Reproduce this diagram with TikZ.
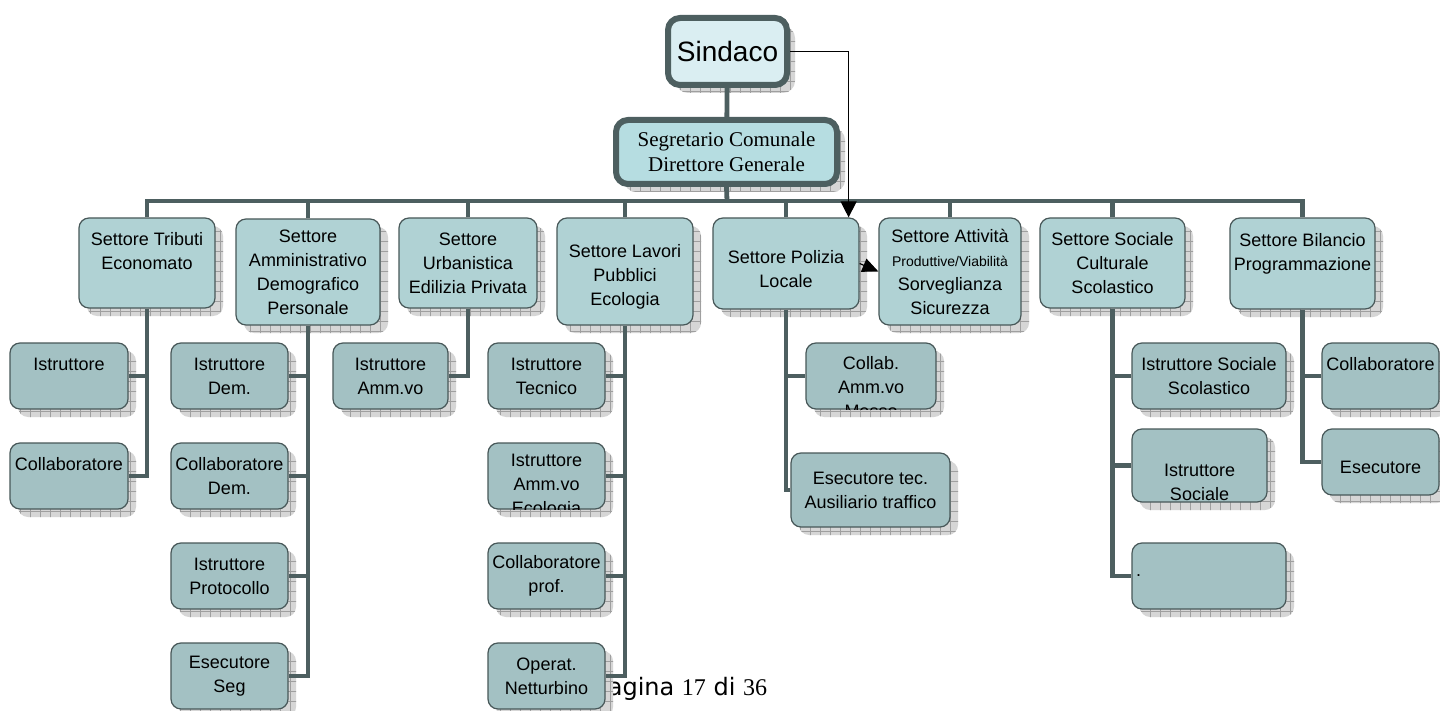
\documentclass[tikz,border=0pt]{standalone}
\usepackage{fontspec}
\setmainfont{Liberation Sans}
\newfontfamily\serfont{Liberation Serif}
\newfontfamily\pagfont{DejaVu Sans}
\usetikzlibrary{arrows.meta,shadows,patterns}
\definecolor{linec}{RGB}{77,95,96}
\definecolor{edgec}{RGB}{72,88,89}
\definecolor{settfill}{RGB}{176,210,212}
\definecolor{subfill}{RGB}{163,193,195}
\definecolor{sindfill}{RGB}{218,238,242}
\definecolor{segfill}{RGB}{182,221,225}
\pgfdeclarepatternformonly{shadegrid}{\pgfqpoint{-1pt}{-1pt}}{\pgfqpoint{6pt}{6pt}}{\pgfqpoint{5pt}{5pt}}{%
  \pgfsetlinewidth{.35pt}
  \pgfpathmoveto{\pgfqpoint{0pt}{0pt}}\pgfpathlineto{\pgfqpoint{5.1pt}{0pt}}
  \pgfpathmoveto{\pgfqpoint{0pt}{0pt}}\pgfpathlineto{\pgfqpoint{0pt}{5.1pt}}
  \pgfusepath{stroke}}
\tikzset{
  gridshadow/.style={general shadow={shadow xshift=4pt, shadow yshift=-4pt, fill=gray!32},
    general shadow={shadow xshift=4pt, shadow yshift=-4pt, pattern=shadegrid, pattern color=gray!75}},
  box/.style={draw=edgec, line width=.6pt, rounded corners=5pt, inner sep=0pt,
    align=center, font=\fontsize{9}{12}\selectfont, gridshadow},
  sett/.style={box, fill=settfill, minimum width=72pt, minimum height=45pt},
  sub/.style={box, fill=subfill, minimum width=58.5pt, minimum height=33pt},
  head/.style={draw=linec, line width=3pt, rounded corners=6pt, inner sep=0pt, align=center, gridshadow},
  link/.style={draw=linec, line width=2.4pt},
  ptr/.style={draw=black, line width=.6pt, -{Triangle[length=8pt,width=8pt]}},
  cut/.style={inner sep=0pt, align=center, font=\fontsize{9}{12}\selectfont}
}
\begin{document}
\begin{tikzpicture}[x=.5pt, y=-.5pt]
  \fill[white] (0,0) rectangle (1440,711);
  \useasboundingbox (0,0) rectangle (1440,711);
  \node[anchor=base west, inner sep=0pt, font=\pagfont\fontsize{12}{14}\selectfont] (pag)
    at (594,695) {Pagina {\serfont 17} di {\serfont 36}};
  % vertice
  \node[head, fill=sindfill, minimum width=59.5pt, minimum height=33.5pt,
    font=\fontsize{14}{16}\selectfont] (sind) at (727.5,51.5) {Sindaco};
  \node[head, fill=segfill, minimum width=110.5pt, minimum height=32pt,
    font=\serfont\fontsize{10.5}{12.5}\selectfont] (seg) at (726.5,152) {Segretario Comunale\\Direttore Generale};
  % settori
  \node[sett, minimum width=68pt] (trib) at (147,263) {Settore Tributi\\Economato\\~};
  \node[sett, minimum height=53pt] (amm) at (308,272) {Settore\\Amministrativo\\Demografico\\Personale};
  \node[sett, minimum width=69pt] (urb) at (468,263) {Settore\\Urbanistica\\Edilizia Privata};
  \node[sett, minimum width=68pt, minimum height=53.5pt] (lav) at (625,271.5) {~\\Settore Lavori\\Pubblici\\Ecologia};
  \node[sett, minimum width=73pt, minimum height=45.5pt] (pol) at (786,263.5) {~\\Settore Polizia\\Locale};
  \node[sett, minimum width=71pt, minimum height=53.5pt] (att) at (950,271.5)
    {Settore Attività\\{\fontsize{7}{9}\selectfont Produttive/Viabilità}\\Sorveglianza\\Sicurezza};
  \node[sett, minimum width=72.5pt] (soc) at (1112.5,263) {Settore Sociale\\Culturale\\Scolastico};
  \node[sett, minimum width=72.5pt, minimum height=45.5pt] (bil) at (1302.5,263.5) {Settore Bilancio\\Programmazione\\~};
  % uffici
  \node[sub, minimum width=59pt] (tist) at (69,376) {Istruttore\\~};
  \node[sub, minimum width=59pt] (tcol) at (69,476) {Collaboratore\\~};
  \node[sub] (aist) at (229.5,376) {Istruttore\\Dem.};
  \node[sub] (acol) at (229.5,476) {Collaboratore\\Dem.};
  \node[sub] (apro) at (229.5,576) {Istruttore\\Protocollo};
  \node[sub] (aese) at (229.5,676) {Esecutore\\Seg};
  \node[sub, minimum width=57.5pt] (uist) at (390.5,376) {Istruttore\\Amm.vo};
  \node[sub] (ltec) at (546.5,376) {Istruttore\\Tecnico};
  \node[sub] (lamm) at (546.5,476) {};
  \node[sub] (lcol) at (546.5,576) {Collaboratore\\prof.};
  \node[sub] (lope) at (546.5,676) {Operat.\\Netturbino};
  \node[sub, minimum width=65pt] (pcol) at (871,376) {};
  \node[sub, minimum width=79.5pt, minimum height=37pt] (pese) at (870.5,490) {Esecutore tec.\\Ausiliario traffico};
  \node[sub, minimum width=77pt] (sist) at (1209,376) {Istruttore Sociale\\Scolastico};
  \node[sub, minimum width=67.5pt, minimum height=36.5pt] (ssoc) at (1199.5,465.5) {};
  \node[sub, minimum width=77pt, text width=73pt, align=left] (sdot) at (1209,576) {.};
  \node[sub] (bcol) at (1380.5,376) {Collaboratore\\~};
  \node[sub] (bese) at (1380.5,462) {~\\Esecutore};
  % testi tagliati
  \begin{scope}
    \clip (lamm.north west) rectangle (lamm.south east);
    \node[cut] (lammt) at ([yshift=-5pt]lamm.center) {Istruttore\\Amm.vo\\Ecologia};
  \end{scope}
  \begin{scope}
    \clip (pcol.north west) rectangle (pcol.south east);
    \node[cut] (pcolt) at ([yshift=-5.5pt]pcol.center) {Collab.\\Amm.vo\\Messo};
  \end{scope}
  \begin{scope}
    \clip (ssoc.north west) rectangle (ssoc.south east);
    \node[cut] (ssoct) at ([yshift=-8.5pt]ssoc.center) {Istruttore\\Sociale};
  \end{scope}
  % collegamenti
  \coordinate (bus) at (727,201);
  \draw[link] (sind) -- (seg) (seg.south) -- (bus);
  \draw[link] (trib.north) |- (bil.north |- bus) -- (bil.north);
  \foreach \s in {amm,urb,lav,pol,att,soc}
    \draw[link] (\s.north) -- (\s.north |- bus);
  \draw[link] (trib.south) |- (tcol.east) (trib.south |- tist) -- (tist.east);
  \draw[link] (amm.south) |- (aese.east);
  \foreach \u in {aist,acol,apro}
    \draw[link] (amm.south |- \u) -- (\u.east);
  \draw[link] (urb.south) |- (uist.east);
  \draw[link] (lav.south) |- (lope.east);
  \foreach \u in {ltec,lamm,lcol}
    \draw[link] (lav.south |- \u) -- (\u.east);
  \draw[link] (pol.south) |- (pese.west) (pol.south |- pcol) -- (pcol.west);
  \draw[link] (soc.south) |- (sdot.west);
  \foreach \u in {sist,ssoc}
    \draw[link] (soc.south |- \u) -- (\u.west);
  \draw[link] (bil.south) |- (bese.west) (bil.south |- bcol) -- (bcol.west);
  \draw[ptr] (sind.east) -| ([xshift=-5.5pt]pol.north east);
  \draw[ptr, -{Triangle[length=8pt,width=7pt]}] (pol.east) -- (att.west);
\end{tikzpicture}
\end{document}
